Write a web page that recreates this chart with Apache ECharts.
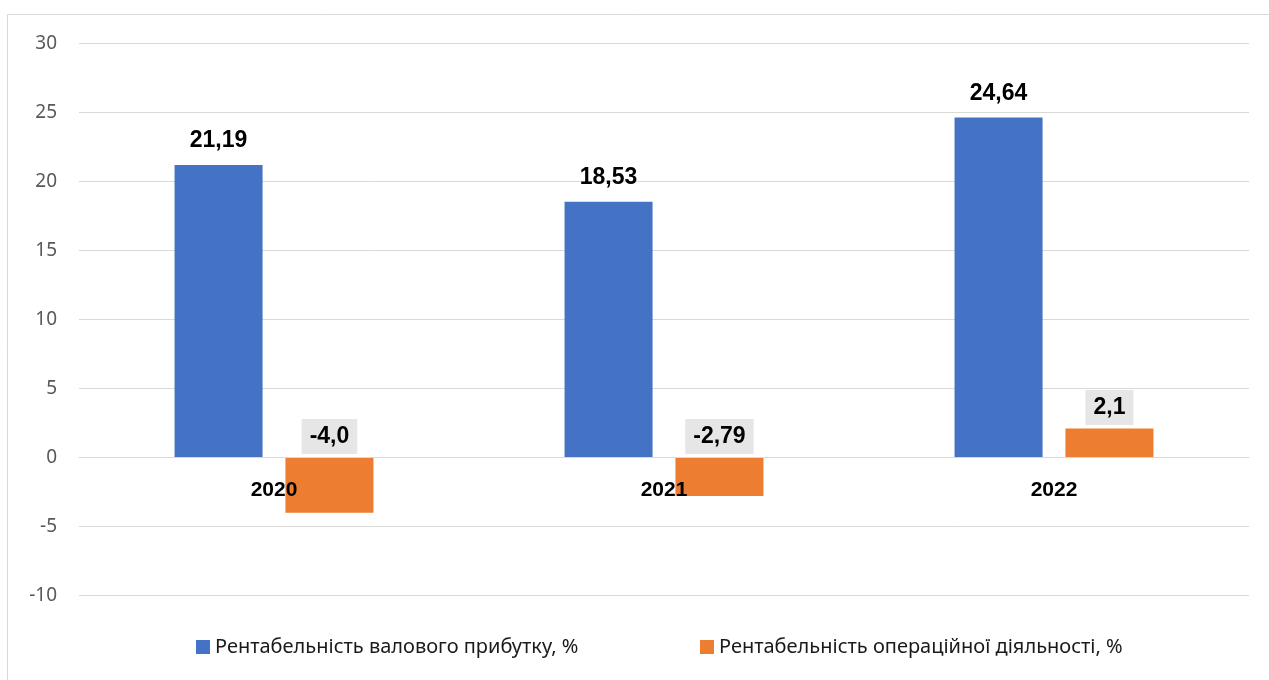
<!DOCTYPE html>
<html>
<head>
<meta charset="utf-8">
<style>
  html, body { margin: 0; padding: 0; background: #ffffff; }
  #chart { width: 1269px; height: 680px; }
</style>
<script src="https://cdn.jsdelivr.net/npm/echarts@6/dist/echarts.min.js"></script>
</head>
<body>
<div id="chart"></div>
<script>
// Years on the category axis
const years = ['2020', '2021', '2022'];

// Series names
const grossName = 'Рентабельність валового прибутку, %';
const operName = 'Рентабельність операційної діяльності, %';

// Values, %
const grossMargin = [21.19, 18.53, 24.64];
const operMargin = [-4.0, -2.79, 2.1];

// Decimal places shown in each value label
const grossDecimals = [2, 2, 2];
const operDecimals = [1, 2, 1];

// Value axis range
const yMin = -10, yMax = 30, yStep = 5;

const fmt = (v, d) => v.toFixed(d).replace('.', ',');

const W = 1269, H = 680;
const gridTop = 43.5, gridBottom = 84.5;
// lift the category axis from the bottom edge up to the zero line
const plotH = H - gridTop - gridBottom;
const zeroOffset = -plotH * (0 - yMin) / (yMax - yMin);

const chart = echarts.init(document.getElementById('chart'), null, { renderer: 'canvas' });

const labelFont = {
  fontFamily: 'Liberation Sans, Arial, sans-serif',
  fontWeight: 'bold',
  fontSize: 23,
  lineHeight: 23,
  color: '#000000'
};

const legendText = { fontFamily: 'Noto Sans, sans-serif', fontSize: 20, color: '#1a1a1a' };

chart.setOption({
  animation: false,
  backgroundColor: '#ffffff',
  graphic: [{
    type: 'rect',
    shape: { x: 7.5, y: 14.5, width: 1300, height: 700 },
    style: { fill: 'none', stroke: '#d9d9d9', lineWidth: 1 },
    silent: true
  }],
  grid: { left: 79, right: 20, top: gridTop, bottom: gridBottom, containLabel: false },
  legend: [{
    left: 191, top: 632,
    itemWidth: 14, itemHeight: 14, itemGap: 6,
    icon: 'rect',
    data: [grossName],
    textStyle: legendText
  }, {
    left: 695, top: 632,
    itemWidth: 14, itemHeight: 14, itemGap: 6,
    icon: 'rect',
    data: [operName],
    textStyle: legendText
  }],
  xAxis: {
    type: 'category',
    data: years,
    position: 'bottom',
    offset: zeroOffset,
    z: 10,
    axisLine: { show: true, onZero: false, lineStyle: { color: '#d9d9d9', width: 1 } },
    axisTick: { show: false },
    axisLabel: {
      margin: 22,
      fontFamily: 'Liberation Sans, Arial, sans-serif',
      fontWeight: 'bold',
      fontSize: 21,
      color: '#000000'
    }
  },
  yAxis: {
    type: 'value',
    min: yMin, max: yMax, interval: yStep,
    axisLine: { show: false },
    axisTick: { show: false },
    splitLine: { lineStyle: { color: '#d9d9d9', width: 1 } },
    axisLabel: {
      margin: 22,
      fontFamily: 'Noto Sans, sans-serif',
      fontSize: 19,
      color: '#595959'
    }
  },
  series: [{
    name: grossName,
    type: 'bar',
    data: grossMargin,
    barGap: '26%',
    barCategoryGap: '49%',
    itemStyle: { color: '#4472c4' },
    label: {
      show: true,
      position: 'top',
      distance: 6.5,
      padding: [6, 8],
      ...labelFont,
      formatter: p => fmt(p.value, grossDecimals[p.dataIndex])
    }
  }, {
    name: operName,
    type: 'bar',
    data: operMargin,
    barGap: '26%',
    barCategoryGap: '49%',
    itemStyle: { color: '#ed7d31' },
    label: {
      show: true,
      position: 'top',
      distance: 3.5,
      padding: [6, 8],
      backgroundColor: '#e7e6e6',
      ...labelFont,
      formatter: p => fmt(p.value, operDecimals[p.dataIndex])
    }
  }]
});
</script>
</body>
</html>
